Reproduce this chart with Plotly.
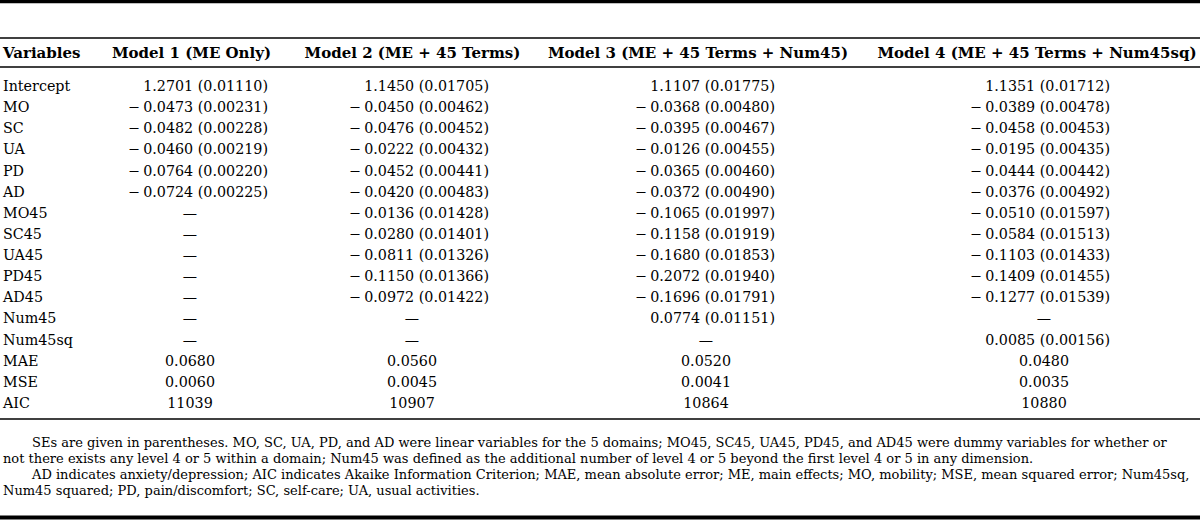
import plotly.graph_objects as go

# ---------------- data ----------------
variables = ["Intercept", "MO", "SC", "UA", "PD", "AD", "MO45", "SC45", "UA45",
             "PD45", "AD45", "Num45", "Num45sq", "MAE", "MSE", "AIC"]
headers = ["Variables", "Model 1 (ME Only)", "Model 2 (ME + 45 Terms)",
           "Model 3 (ME + 45 Terms + Num45)", "Model 4 (ME + 45 Terms + Num45sq)"]

# coefficient rows: Intercept .. Num45sq (13 rows); None = not in model
m1_coef = [1.2701, -0.0473, -0.0482, -0.0460, -0.0764, -0.0724, None, None, None, None, None, None, None]
m1_se   = [0.01110, 0.00231, 0.00228, 0.00219, 0.00220, 0.00225, None, None, None, None, None, None, None]
m2_coef = [1.1450, -0.0450, -0.0476, -0.0222, -0.0452, -0.0420, -0.0136, -0.0280, -0.0811, -0.1150, -0.0972, None, None]
m2_se   = [0.01705, 0.00462, 0.00452, 0.00432, 0.00441, 0.00483, 0.01428, 0.01401, 0.01326, 0.01366, 0.01422, None, None]
m3_coef = [1.1107, -0.0368, -0.0395, -0.0126, -0.0365, -0.0372, -0.1065, -0.1158, -0.1680, -0.2072, -0.1696, 0.0774, None]
m3_se   = [0.01775, 0.00480, 0.00467, 0.00455, 0.00460, 0.00490, 0.01997, 0.01919, 0.01853, 0.01940, 0.01791, 0.01151, None]
m4_coef = [1.1351, -0.0389, -0.0458, -0.0195, -0.0444, -0.0376, -0.0510, -0.0584, -0.1103, -0.1409, -0.1277, None, 0.0085]
m4_se   = [0.01712, 0.00478, 0.00453, 0.00435, 0.00442, 0.00492, 0.01597, 0.01513, 0.01433, 0.01455, 0.01539, None, 0.00156]

mae = [0.0680, 0.0560, 0.0520, 0.0480]
mse = [0.0060, 0.0045, 0.0041, 0.0035]
aic = [11039, 10907, 10864, 10880]

footnotes = [
    "SEs are given in parentheses. MO, SC, UA, PD, and AD were linear variables for the 5 domains; MO45, SC45, UA45, PD45, and AD45 were dummy variables for whether or",
    "not there exists any level 4 or 5 within a domain; Num45 was defined as the additional number of level 4 or 5 beyond the first level 4 or 5 in any dimension.",
    "AD indicates anxiety/depression; AIC indicates Akaike Information Criterion; MAE, mean absolute error; ME, main effects; MO, mobility; MSE, mean squared error; Num45sq,",
    "Num45 squared; PD, pain/discomfort; SC, self-care; UA, usual activities.",
]
footnote_indent = [True, False, True, False]

# ---------------- layout constants (pixels) ----------------
W, H = 1200, 520
ROW_TOP, ROW_STEP = 87.5, 21.13
HEADER_Y = 54
VAR_X = 3
HEADER_CENTERS = [191.5, 412.5, 698, 1037]
COL_RIGHT = [268, 489, 775, 1110]
COL_CENTER = [190, 412, 706, 1044]
FOOT_Y0, FOOT_STEP = 443.5, 16
FOOT_X, FOOT_INDENT = 3, 32
RULES = [(1.5, 3.5), (38, 1.3), (67, 1.6), (419, 1.5), (517.5, 4)]

FONT = "DejaVu Serif"
BODY = 14.3
HEAD = 15
FOOT = 13.0

def row_y(i):
    return ROW_TOP + i * ROW_STEP

def fmt(c, s):
    if c is None:
        return None
    sign = "\u2212\u2009" if c < 0 else ""
    return f"{sign}{abs(c):.4f} ({s:.5f})"

fig = go.Figure()

def add_text(xs, ys, texts, pos, bold=False, size=BODY):
    fig.add_trace(go.Scatter(
        x=xs, y=ys, text=texts, mode="text", textposition=pos,
        textfont=dict(family=FONT, size=size, color="black",
                      weight="bold" if bold else "normal"),
        hoverinfo="skip", showlegend=False, cliponaxis=False))

# header
add_text([VAR_X], [HEADER_Y], [headers[0]], "middle right", bold=True, size=HEAD)
add_text(HEADER_CENTERS, [HEADER_Y] * 4, headers[1:], "middle center", bold=True, size=HEAD)

# variable names
add_text([VAR_X] * len(variables), [row_y(i) for i in range(len(variables))],
         variables, "middle right")

# coefficient cells
models = [(m1_coef, m1_se), (m2_coef, m2_se), (m3_coef, m3_se), (m4_coef, m4_se)]
rx, ry, rt = [], [], []
cx, cy, ct = [], [], []
for j, (coefs, ses) in enumerate(models):
    for i, (c, s) in enumerate(zip(coefs, ses)):
        t = fmt(c, s)
        if t is None:
            cx.append(COL_CENTER[j]); cy.append(row_y(i)); ct.append("\u2014")
        else:
            rx.append(COL_RIGHT[j]); ry.append(row_y(i)); rt.append(t)
    base = len(coefs)
    for k, v in enumerate([f"{mae[j]:.4f}", f"{mse[j]:.4f}", f"{aic[j]}"]):
        cx.append(COL_CENTER[j]); cy.append(row_y(base + k)); ct.append(v)
add_text(rx, ry, rt, "middle left")
add_text(cx, cy, ct, "middle center")

# footnotes
fx = [FOOT_INDENT if ind else FOOT_X for ind in footnote_indent]
fy = [FOOT_Y0 + k * FOOT_STEP for k in range(len(footnotes))]
add_text(fx, fy, footnotes, "middle right", size=FOOT)

# rules
for y, w in RULES:
    fig.add_shape(type="line", xref="paper", x0=0, x1=1, yref="y", y0=y, y1=y,
                  line=dict(color="black", width=w))

fig.update_layout(
    width=W, height=H, margin=dict(l=0, r=0, t=0, b=0),
    paper_bgcolor="white", plot_bgcolor="white", showlegend=False,
    xaxis=dict(range=[0, W], visible=False, fixedrange=True),
    yaxis=dict(range=[H, 0], visible=False, fixedrange=True),
)

fig.write_html(
    "out.html",
    config={"displayModeBar": False},
    post_script="document.body.style.margin='0';document.body.style.padding='0';"
                "document.body.style.overflow='hidden';",
)
